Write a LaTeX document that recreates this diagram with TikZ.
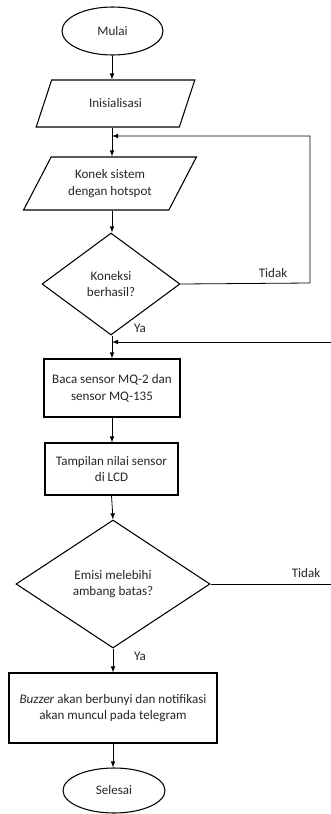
\documentclass[tikz,border=0pt]{standalone}
\usepackage{fontspec}
\setmainfont{Carlito}
\usetikzlibrary{arrows, positioning, shapes.geometric}

\tikzset{
  terminal/.style={draw, thick, ellipse, inner sep=0pt, align=center},
  io/.style={draw, thick, trapezium, trapezium stretches=true,
    trapezium left angle=55, trapezium right angle=125, inner sep=0pt, align=center},
  proses/.style={draw, thick, rectangle, inner sep=0pt, align=center},
  keputusan/.style={draw, thick, diamond, inner sep=0pt, align=center},
  panah/.style={->, >=latex, semithick},
  label/.style={inner sep=0pt}
}

\begin{document}
\begin{tikzpicture}[x=0.75pt, y=-0.75pt, font=\fontsize{9.8}{12.5}\selectfont, text=black!85]
                    \useasboundingbox (0,0) rectangle (331,814);
                    \coordinate (kolom) at (112,0);
                    \node[terminal, minimum width=75.75pt, minimum height=36pt] (mulai) at (112.5,31) {Mulai};
                    \node[io, minimum width=119.25pt, minimum height=35.25pt] (init) at (115.5,103.5) {Inisialisasi};
                    \node[io, minimum width=130.5pt, minimum height=39.75pt] (konek) at (110,183.5) {Konek sistem\\dengan hotspot};
                    \node[keputusan, minimum width=103.5pt, minimum height=76.5pt] (koneksi) at (111,284) {Koneksi\\berhasil?};
                    \node[proses, minimum width=102pt, minimum height=43.5pt] (baca) at (112,388) {Baca sensor MQ-2 dan\\sensor MQ-135};
                    \node[proses, minimum width=99.75pt, minimum height=39pt] (tampil) at (111.5,469) {Tampilan nilai sensor\\di LCD};
                    \node[keputusan, minimum width=145.5pt, minimum height=96pt] (emisi) at (113,584) {Emisi melebihi\\ambang batas?};
                    \node[proses, minimum width=156pt, minimum height=52.5pt] (buzzer) at (113,708) {\textit{Buzzer} akan berbunyi dan notifikasi\\akan muncul pada telegram};
                    \node[terminal, minimum width=76.5pt, minimum height=33.75pt] (selesai) at (114,790.5) {Selesai};
                    \node[label] (tidak1) at (273,273) {Tidak};
                    \node[label] (ya1) at (140,328) {Ya};
                    \node[label] (tidak2) at (306,573) {Tidak};
                    \node[label] (ya2) at (140,656) {Ya};
                    \coordinate (k1) at (310,283);
                    \coordinate (k2) at (310,136);
                    \coordinate (k3) at (340,584);
                    \coordinate (k4) at (340,342);
                    \draw[panah] (mulai.south -| kolom) -- (init.north -| kolom);
                    \draw[panah] (init.south -| kolom) -- (konek.north -| kolom);
                    \draw[panah] (konek.south -| kolom) -- (koneksi.north -| kolom);
                    \draw[panah] (koneksi.south -| kolom) -- (baca.north -| kolom);
                    \draw[panah] (baca.south -| kolom) -- (tampil.north -| kolom);
                    \draw[panah] (tampil.south) -- (emisi.north);
                    \draw[panah] (emisi.south) -- (buzzer.north -| emisi.south);
                    \draw[panah] (buzzer.south) -- (selesai.north -| buzzer.south);
                    \draw[panah] (koneksi.east) -- (k1) -- (k2) -- (k2 -| kolom);
                    \draw[panah] (emisi.east) -- (k3) -- (k4) -- (k4 -| kolom);
                  \end{tikzpicture}
\end{document}
